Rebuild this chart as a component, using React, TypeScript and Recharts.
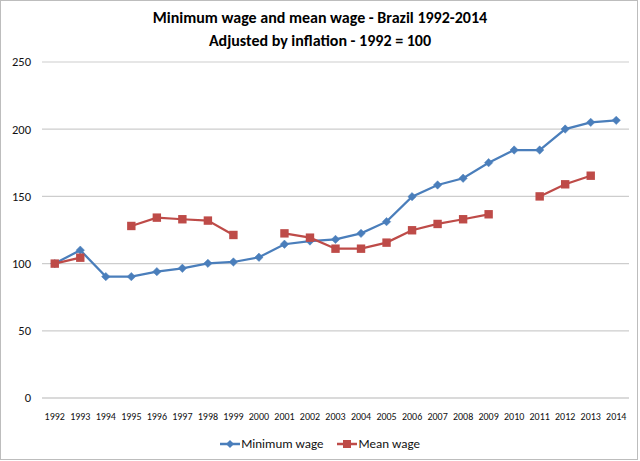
import { LineChart, Line, XAxis, YAxis, CartesianGrid } from 'recharts';

const years = [
  '1992', '1993', '1994', '1995', '1996', '1997', '1998', '1999', '2000', '2001', '2002', '2003',
  '2004', '2005', '2006', '2007', '2008', '2009', '2010', '2011', '2012', '2013', '2014',
];

const minimumWage = [
  100, 110, 90.3, 90.3, 94, 96.5, 100.2, 101.2, 104.7, 114.4, 116.8, 118,
  122.5, 131.2, 149.8, 158.5, 163.5, 175.1, 184.5, 184.5, 200.1, 205.1, 206.6,
];

const meanWage = [
  100, 104.4, null, 128, 134.2, 133, 132, 121.3, null, 122.5, 119.3, 111.1,
  111.1, 115.6, 124.8, 129.5, 133, 136.7, null, 150, 159, 165.4, null,
];

const yTicks = [0, 50, 100, 150, 200, 250];

const BLUE = '#4a7ebb';
const RED = '#be4b48';
const FONT = 'Carlito, Calibri, Lato, sans-serif';

const data = years.map((year, i) => ({
  year,
  min: minimumWage[i],
  mean: meanWage[i],
}));

function Diamond({ cx, cy }: any) {
  if (cx == null || cy == null) return null;
  const r = 4.2;
  return (
    <path
      d={`M${cx},${cy - r}L${cx + r},${cy}L${cx},${cy + r}L${cx - r},${cy}Z`}
      fill={BLUE}
      stroke={BLUE}
      strokeWidth={0.5}
    />
  );
}

function Square({ cx, cy, value }: any) {
  if (cx == null || cy == null || value == null) return null;
  const r = 4.2;
  return <rect x={cx - r} y={cy - r} width={r * 2} height={r * 2} fill={RED} />;
}

function LegendItem({ color, label, square }: { color: string; label: string; square?: boolean }) {
  return (
    <div style={{ display: 'flex', alignItems: 'center', gap: 1 }}>
      <svg width={20} height={10}>
        <line x1={0} y1={5} x2={20} y2={5} stroke={color} strokeWidth={2.5} />
        {square ? (
          <rect x={6} y={1} width={8} height={8} fill={color} />
        ) : (
          <path d="M10,1L14,5L10,9L6,5Z" fill={color} />
        )}
      </svg>
      <span>{label}</span>
    </div>
  );
}

export default function App() {
  return (
    <div
      style={{
        position: 'absolute',
        left: 0,
        top: 0,
        width: 640,
        height: 461,
        background: '#fff',
        fontFamily: FONT,
      }}
    >
      <div
        style={{
          position: 'absolute',
          left: 0,
          top: 0,
          width: 636,
          height: 458,
          border: '1px solid #bdbdbd',
        }}
      />
      <div
        style={{
          position: 'absolute',
          top: 6,
          left: 0,
          width: 640,
          textAlign: 'center',
          fontWeight: 700,
          fontSize: 16,
          lineHeight: '23px',
          color: '#000',
        }}
      >
        <div>Minimum wage and mean wage - Brazil 1992-2014</div>
        <div>Adjusted by inflation - 1992 = 100</div>
      </div>
      <LineChart
        width={640}
        height={461}
        data={data}
        margin={{ top: 62, right: 11, bottom: 33, left: 0 }}
      >
        <CartesianGrid vertical={false} stroke="#cdcdcd" strokeWidth={1.2} />
        <XAxis
          dataKey="year"
          interval={0}
          padding={{ left: 12.76, right: 12.76 }}
          tickLine={false}
          axisLine={{ stroke: '#cdcdcd', strokeWidth: 1.2 }}
          tick={{ fill: '#111', fontSize: 10, fontFamily: FONT }}
          tickMargin={9}
          height={30}
        />
        <YAxis
          domain={[0, 250]}
          ticks={yTicks}
          width={42}
          axisLine={false}
          tickLine={false}
          tickSize={0}
          tickMargin={11}
          tick={{ fill: '#111', fontSize: 12.5, fontFamily: FONT }}
        />
        <Line
          dataKey="min"
          stroke={BLUE}
          strokeWidth={2.25}
          dot={<Diamond />}
          activeDot={false}
          isAnimationActive={false}
        />
        <Line
          dataKey="mean"
          stroke={RED}
          strokeWidth={2.25}
          dot={<Square />}
          activeDot={false}
          isAnimationActive={false}
        />
      </LineChart>
      <div
        style={{
          position: 'absolute',
          top: 435,
          left: 0,
          width: 640,
          display: 'flex',
          justifyContent: 'center',
          gap: 14,
          fontSize: 13,
          color: '#111',
          lineHeight: '18px',
        }}
      >
        <LegendItem color={BLUE} label="Minimum wage" />
        <LegendItem color={RED} label="Mean wage" square />
      </div>
    </div>
  );
}
